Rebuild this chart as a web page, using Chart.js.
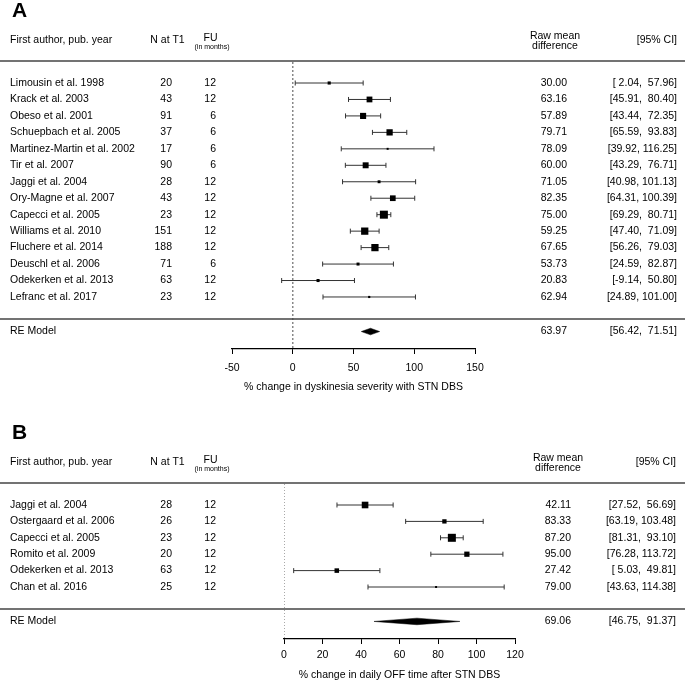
<!DOCTYPE html>
<html>
<head>
<meta charset="utf-8">
<script src="https://cdn.jsdelivr.net/npm/chart.js@4.4.0/dist/chart.umd.min.js"></script>
<style>
  body { margin: 0; background: #fff; }
  #wrap { position: relative; width: 685px; height: 682px; }
  canvas { position: absolute; left: 0; }
</style>
</head>
<body>
<div id="wrap">
  <canvas id="panelA" width="685" height="422" style="top:0"></canvas>
  <canvas id="panelB" width="685" height="260" style="top:422px"></canvas>
</div>
<script>
// ---- Panel A: dyskinesia severity ----
const authorsA = ['Limousin et al. 1998', 'Krack et al. 2003', 'Obeso et al. 2001', 'Schuepbach et al. 2005',
  'Martinez-Martin et al. 2002', 'Tir et al. 2007', 'Jaggi et al. 2004', 'Ory-Magne et al. 2007',
  'Capecci et al. 2005', 'Williams et al. 2010', 'Fluchere et al. 2014', 'Deuschl et al. 2006',
  'Odekerken et al. 2013', 'Lefranc et al. 2017'];
const nA = [20, 43, 91, 37, 17, 90, 28, 43, 23, 151, 188, 71, 63, 23];
const fuA = [12, 12, 6, 6, 6, 6, 12, 12, 12, 12, 12, 6, 12, 12];
const estA = [30.00, 63.16, 57.89, 79.71, 78.09, 60.00, 71.05, 82.35, 75.00, 59.25, 67.65, 53.73, 20.83, 62.94];
const lbA = [2.04, 45.91, 43.44, 65.59, 39.92, 43.29, 40.98, 64.31, 69.29, 47.40, 56.26, 24.59, -9.14, 24.89];
const ubA = [57.96, 80.40, 72.35, 93.83, 116.25, 76.71, 101.13, 100.39, 80.71, 71.09, 79.03, 82.87, 50.80, 101.00];
const weightA = [4.6, 7.8, 8.2, 8.4, 3.2, 8.0, 4.3, 7.7, 10.5, 9.6, 9.6, 4.4, 4.5, 3.4];
const reA = [63.97, 56.42, 71.51];
const ticksA = [-50, 0, 50, 100, 150];

// ---- Panel B: daily OFF time ----
const authorsB = ['Jaggi et al. 2004', 'Ostergaard et al. 2006', 'Capecci et al. 2005',
  'Romito et al. 2009', 'Odekerken et al. 2013', 'Chan et al. 2016'];
const nB = [28, 26, 23, 20, 63, 25];
const fuB = [12, 12, 12, 12, 12, 12];
const estB = [42.11, 83.33, 87.20, 95.00, 27.42, 79.00];
const lbB = [27.52, 63.19, 81.31, 76.28, 5.03, 43.63];
const ubB = [56.69, 103.48, 93.10, 113.72, 49.81, 114.38];
const weightB = [19, 14, 22, 16, 14.5, 9];
const reB = [69.06, 46.75, 91.37];
const ticksB = [0, 20, 40, 60, 80, 100, 120];

Chart.defaults.font.family = '"Liberation Sans", Arial, sans-serif';
Chart.defaults.font.size = 10.5;
Chart.defaults.color = '#000';

function fmtCI(lb, ub) {
  const lo = lb.map(v => v.toFixed(2));
  const hi = ub.map(v => v.toFixed(2));
  const wl = Math.max(...lo.map(s => s.length));
  const wh = Math.max(...hi.map(s => s.length));
  return lo.map((s, i) => '[' + s.padStart(wl, ' ') + ', ' + hi[i].padStart(wh, ' ') + ']');
}

function buildPanel(canvasId, p) {
  const k = p.authors.length;
  const reRow = k + 2.1;
  const sepRow = k + 1.34;
  const rowPx = p.rowPx;
  const yMin = 1 - (p.firstRowY - p.plotTop) / rowPx;
  const yMax = 1 + (p.axisY - p.firstRowY) / rowPx;
  const wMin = Math.min(...p.weight), wMax = Math.max(...p.weight);
  const side = p.weight.map(w => 2 + (w - wMin) / (wMax - wMin) * 6);
  const ciText = fmtCI(p.lb.concat([p.re[1]]), p.ub.concat([p.re[2]]));
  const dh = 0.2;

  const datasets = [];
  // squares
  datasets.push({
    data: p.est.map((e, i) => ({ x: e, y: i + 1 })),
    pointStyle: 'rect',
    pointRadius: side.map(s => s / Math.SQRT2),
    pointBackgroundColor: '#000',
    pointBorderWidth: 0,
    showLine: false,
    order: 0
  });
  // RE diamond
  datasets.push({
    data: [
      { x: p.re[1], y: reRow }, { x: p.re[0], y: reRow - dh },
      { x: p.re[2], y: reRow }, { x: p.re[0], y: reRow + dh },
      { x: p.re[1], y: reRow }
    ],
    showLine: true,
    fill: 'shape',
    backgroundColor: '#000',
    borderColor: '#000',
    borderWidth: 0.5,
    pointRadius: 0,
    tension: 0,
    order: 0
  });
  // whiskers
  p.est.forEach((e, i) => {
    datasets.push({
      data: [{ x: p.lb[i], y: i + 1 }, { x: p.ub[i], y: i + 1 }],
      showLine: true,
      borderColor: '#333',
      borderWidth: 1,
      pointStyle: 'line',
      rotation: 90,
      pointRadius: 2.5,
      pointBorderColor: '#333',
      pointBorderWidth: 1,
      order: 1
    });
  });
  // zero reference line
  datasets.push({
    data: [{ x: 0, y: yMin }, { x: 0, y: yMax }],
    showLine: true,
    borderColor: p.zeroColor,
    borderWidth: p.zeroWidth,
    borderDash: p.zeroDash,
    pointRadius: 0,
    order: 2
  });

  const textPlugin = {
    id: 'forestText' + canvasId,
    afterDraw(chart) {
      const ctx = chart.ctx;
      const ys = chart.scales.y;
      const W = chart.width;
      const font = '10.5px "Liberation Sans", Arial, sans-serif';
      ctx.save();
      ctx.fillStyle = '#000';
      ctx.textBaseline = 'middle';

      ctx.font = 'bold 21px "Liberation Sans", Arial, sans-serif';
      ctx.textAlign = 'left';
      ctx.fillText(p.letter, 12, 11);

      // header
      ctx.font = font;
      ctx.fillText('First author, pub. year', 10, 40);
      ctx.textAlign = 'center';
      ctx.fillText('N at T1', 167.5, 40);
      ctx.fillText('FU', 210.5, 38);
      ctx.fillText('Raw mean', p.rawX, 36);
      ctx.fillText('difference', p.rawX, 46.5);
      ctx.font = '7px "Liberation Sans", Arial, sans-serif';
      ctx.fillText('(in months)', 212, 47);
      ctx.font = font;
      ctx.textAlign = 'right';
      ctx.fillText('[95% CI]', p.ciX, 40);

      // rules
      ctx.strokeStyle = '#444';
      ctx.lineWidth = 1.4;
      [61, ys.getPixelForValue(sepRow)].forEach(y => {
        ctx.beginPath();
        ctx.moveTo(0, y);
        ctx.lineTo(W, y);
        ctx.stroke();
      });

      // study rows
      p.authors.forEach((a, i) => {
        const y = ys.getPixelForValue(i + 1);
        ctx.textAlign = 'left';
        ctx.fillText(a, 10, y);
        ctx.textAlign = 'right';
        ctx.fillText(String(p.n[i]), 172, y);
        ctx.fillText(String(p.fu[i]), 216, y);
        ctx.fillText(p.est[i].toFixed(2), p.estX, y);
        ctx.fillText(ciText[i], p.ciX, y);
      });
      const yr = ys.getPixelForValue(reRow);
      ctx.textAlign = 'left';
      ctx.fillText('RE Model', 10, yr);
      ctx.textAlign = 'right';
      ctx.fillText(p.re[0].toFixed(2), p.estX, yr);
      ctx.fillText(ciText[k], p.ciX, yr);
      ctx.restore();
    }
  };

  const canvas = document.getElementById(canvasId);
  return new Chart(canvas, {
    type: 'scatter',
    data: { datasets: datasets },
    options: {
      responsive: false,
      animation: false,
      events: [],
      layout: {
        padding: { left: p.left, right: canvas.width - p.right, top: p.plotTop, bottom: canvas.height - p.axisY - p.axisH }
      },
      plugins: { legend: { display: false }, tooltip: { enabled: false } },
      scales: {
        x: {
          type: 'linear',
          min: p.ticks[0],
          max: p.ticks[p.ticks.length - 1],
          ticks: { stepSize: p.ticks[1] - p.ticks[0], color: '#000', padding: p.tickPad, font: { size: 10.5 } },
          grid: { drawOnChartArea: false, drawTicks: true, tickLength: 5, color: '#000', lineWidth: 1 },
          border: { display: true, color: '#000', width: 1.2 },
          title: { display: true, text: p.xTitle, color: '#000', font: { size: 10.5 }, padding: { top: 0, bottom: 0 } },
          afterFit(scale) { scale.height = p.axisH; }
        },
        y: { type: 'linear', reverse: true, min: yMin, max: yMax, display: false }
      }
    },
    plugins: [textPlugin]
  });
}

buildPanel('panelA', {
  letter: 'A', authors: authorsA, n: nA, fu: fuA, est: estA, lb: lbA, ub: ubA, weight: weightA, re: reA,
  ticks: ticksA, xTitle: '% change in dyskinesia severity with STN DBS',
  left: 232, right: 475, plotTop: 62, firstRowY: 83, rowPx: 16.46, axisY: 349, axisH: 44, tickPad: 8,
  rawX: 555, estX: 567, ciX: 677,
  zeroColor: '#888', zeroWidth: 1.5, zeroDash: [2, 2]
});

buildPanel('panelB', {
  letter: 'B', authors: authorsB, n: nB, fu: fuB, est: estB, lb: lbB, ub: ubB, weight: weightB, re: reB,
  ticks: ticksB, xTitle: '% change in daily OFF time after STN DBS',
  left: 284, right: 515, plotTop: 62, firstRowY: 83, rowPx: 16.4, axisY: 217, axisH: 42, tickPad: 5,
  rawX: 558, estX: 571, ciX: 676,
  zeroColor: '#555', zeroWidth: 1, zeroDash: [1, 2]
});
</script>
</body>
</html>
